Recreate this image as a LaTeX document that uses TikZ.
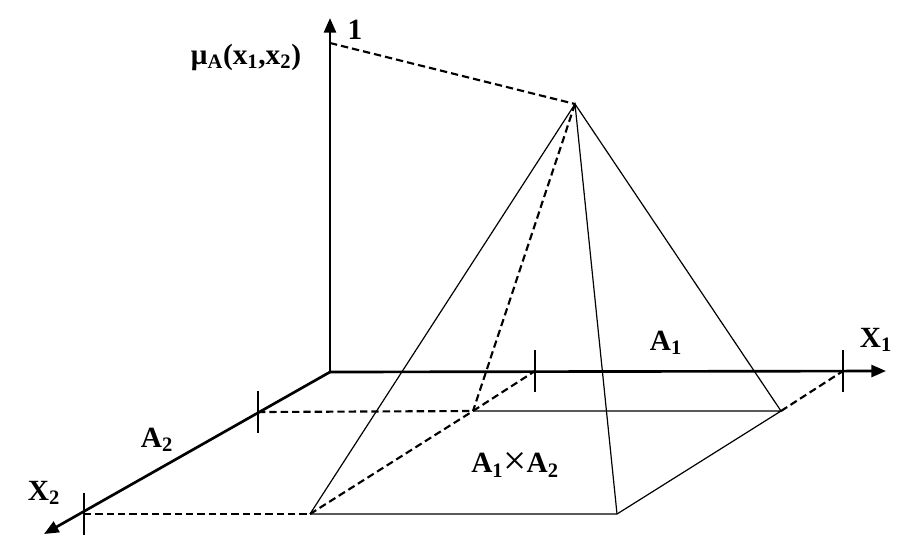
\documentclass[tikz,border=0pt]{standalone}
\usepackage{fontspec}
\usepackage{graphicx}
\setmainfont{Liberation Serif}
\usetikzlibrary{arrows.meta}

\begin{document}
\begin{tikzpicture}[x=0.75pt, y=-0.75pt,
    every node/.style={font=\fontsize{22}{26}\selectfont\bfseries, inner sep=0pt},
    axis/.style={line width=2pt, -{Triangle[length=11pt,width=9pt]}},
    edge/.style={line width=0.9pt},
    hidden/.style={line width=1.6pt, dash pattern=on 5.5pt off 3pt},
    tick/.style={line width=0.9pt}]
    \useasboundingbox (0,0) rectangle (919,544);
    \coordinate (O) at (330,372);
    \coordinate (Mtop) at (330,18);
    \coordinate (X1end) at (886,371);
    \coordinate (X2end) at (44,534);
    \coordinate (one) at (330,43);
    \coordinate (apex) at (575,104);
    \coordinate (bl) at (473,411);
    \coordinate (br) at (781,411);
    \coordinate (fl) at (310,514);
    \coordinate (fr) at (617,514);
    \coordinate (ta) at (535,371);
    \coordinate (tb) at (843,371);
    \coordinate (tc) at (258,412);
    \coordinate (td) at (84,514);
    \draw[axis] (O) -- (Mtop);
    \draw[axis] (O) -- (X1end);
    \draw[axis] (O) -- (X2end);
    \foreach \t in {ta,tb,tc,td}
        \draw[tick] (\t) ++(0,-21) -- ++(0,42);
    \draw[hidden] (one) -- (apex);
    \draw[hidden] (apex) -- (bl);
    \draw[hidden] (bl) -- (ta);
    \draw[hidden] (br) -- (tb);
    \draw[hidden] (tc) -- (bl);
    \draw[hidden] (td) -- (fl);
    \draw[hidden] (fl) -- (bl);
    \draw[edge] (bl) -- (br) -- (fr) -- (fl);
    \draw[edge] (fl) -- (apex) -- (fr);
    \draw[edge] (apex) -- (br);
    \node (lone) at (355,30) {1};
    \node (lmu) at (246,57) {μ\textsubscript{A}(x\textsubscript{1},x\textsubscript{2})};
    \node (lX1) at (876,340) {X\textsubscript{1}};
    \node (lA1) at (666,343) {A\textsubscript{1}};
    \node (lA12) at (515,465) {A\textsubscript{1}\raisebox{-0.15ex}{\scalebox{1.4}{\mdseries×}}A\textsubscript{2}};
    \node (lA2) at (157,440) {A\textsubscript{2}};
    \node (lX2) at (44,493) {X\textsubscript{2}};
\end{tikzpicture}
\end{document}
